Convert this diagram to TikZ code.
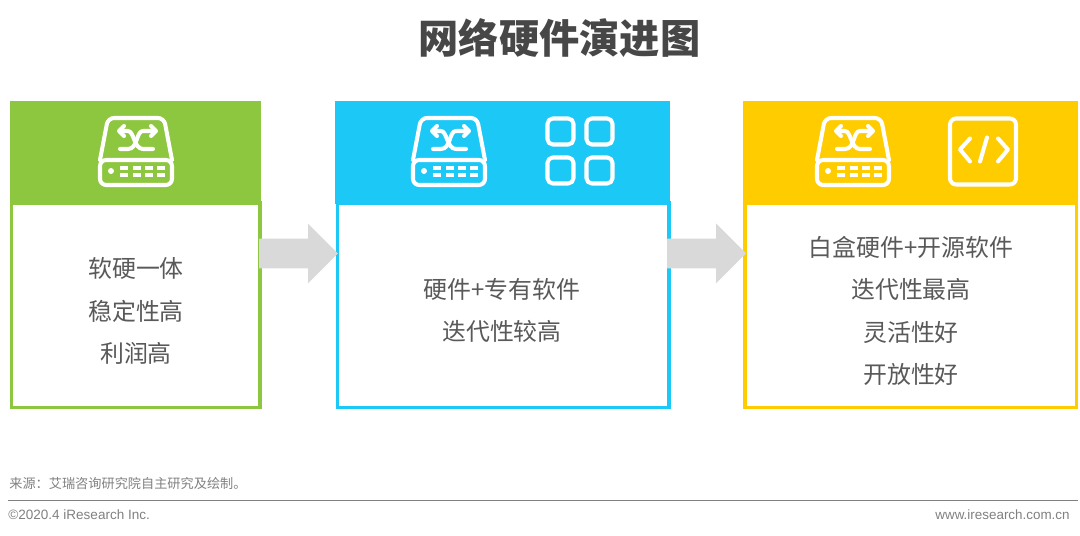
\documentclass[tikz,border=0pt]{standalone}
\usepackage{fontspec}
\setmainfont{Noto Sans CJK SC}
\newfontfamily\latinfont{Liberation Sans}
\usetikzlibrary{shapes.arrows}
\definecolor{cardgreen}{HTML}{8DC63F}
\definecolor{cardblue}{HTML}{1CC8F5}
\definecolor{cardyellow}{HTML}{FFCC00}
\definecolor{bodytext}{HTML}{595959}
\definecolor{arrowgray}{HTML}{D9D9D9}
\tikzset{
  head/.style={fill=#1,inner sep=0pt,outer sep=0pt,anchor=north west,minimum height=2.08cm},
  cardbody/.style={draw=#1,fill=white,line width=2pt,inner sep=0pt,outer sep=0pt,anchor=north west,minimum height=4.09cm},
  cardtext/.style={text=bodytext,font=\fontsize{13.6}{24.2}\selectfont,align=center,inner sep=0pt},
  flowarrow/.style={single arrow,fill=arrowgray,inner xsep=0pt,inner ysep=0.29cm,outer sep=0pt,
    single arrow head extend=0.3cm,single arrow head indent=0pt,minimum height=1.58cm,anchor=west},
  icon/.style={draw=white,line width=2.3pt,line cap=round,line join=round},
  switchicon/.pic={
    \draw[icon,rounded corners=3.5pt] (-36,8) -- (-28,-34) -- (28,-34) -- (36,8);
    \draw[icon,rounded corners=3.5pt] (-36,8) rectangle (36,33);
    \fill[white] (-25,19) circle (3);
    \foreach \x in {-16,-3,9,21}{
      \draw[icon,line width=2.1pt,line cap=butt] (\x,16) -- ++(8,0);
      \draw[icon,line width=2.1pt,line cap=butt] (\x,23) -- ++(8,0);
    }
    \draw[icon] (-16,-21) -- (-8,-21) .. controls (-2,-21) and (-2,-3) .. (7,-3) -- (17,-3);
    \draw[icon] (-16,-3) -- (-8,-3) .. controls (2,-3) and (0,-21) .. (7,-21) -- (19,-21);
    \draw[icon] (-12,-26) -- (-17,-21) -- (-12,-16);
    \draw[icon] (15,-26) -- (20,-21) -- (15,-16);
  },
  gridicon/.pic={
    \foreach \x in {-19.5,19.5}
      \foreach \y in {-19.5,19.5}
        \draw[icon,rounded corners=3pt] (\x-13,\y-13) rectangle (\x+13,\y+13);
  },
  codeicon/.pic={
    \draw[icon,rounded corners=3.5pt] (-33,-33) rectangle (33,33);
    \draw[icon] (-13,-13) -- (-23,-2) -- (-13,10);
    \draw[icon] (4,-14) -- (-3,10);
    \draw[icon] (15,-13) -- (25,-2) -- (15,10);
  }
}
\begin{document}
\begin{tikzpicture}[x=0.02cm,y=-0.02cm]
  \useasboundingbox (0,0) rectangle (1080,536);
  \node[text=bodytext!80!black,font=\fontsize{22.9}{28}\selectfont\bfseries,inner sep=0pt] (title) at (559.5,38) {网络硬件演进图};

  \node[cardbody=cardgreen,minimum width=4.97cm] (bodyA) at (11.3,203) {};
  \node[cardbody=cardblue,minimum width=6.63cm] (bodyB) at (337.5,203) {};
  \node[cardbody=cardyellow,minimum width=6.63cm] (bodyC) at (745,203) {};
  \node[head=cardgreen,minimum width=5.02cm,minimum height=2.06cm] (headA) at (10,101) {};
  \node[head=cardblue,minimum width=6.7cm,minimum height=2.06cm] (headB) at (335,101) {};
  \node[head=cardyellow,minimum width=6.7cm,minimum height=2.06cm] (headC) at (743,101) {};

  \pic at (136,152) {switchicon};
  \pic at (449,152) {switchicon};
  \pic at (580,151) {gridicon};
  \pic at (853,152) {switchicon};
  \pic at (983,151.5) {codeicon};

  \node[flowarrow] (stepA) at (259,253.5) {};
  \node[flowarrow] (stepB) at (667,253.5) {};

  \node[cardtext] (textA) at (136,311) {软硬一体\\稳定性高\\利润高};
  \node[cardtext] (textB) at (502,310.5) {硬件+专有软件\\迭代性较高};
  \node[cardtext] (textC) at (911,311) {白盒硬件+开源软件\\迭代性最高\\灵活性好\\开放性好};

  \node[anchor=west,text=gray,font=\fontsize{7.5}{10}\selectfont,inner sep=0pt] (source) at (9,483.5) {来源：艾瑞咨询研究院自主研究及绘制。};
  \coordinate (ruleL) at (8,500.5);
  \coordinate (ruleR) at (1078,500.5);
  \draw[gray,line width=0.7pt] (ruleL) -- (ruleR);
  \node[anchor=west,text=gray,font=\latinfont\fontsize{7.7}{10}\selectfont,inner sep=0pt] (copy) at (8,515) {©2020.4 iResearch Inc.};
  \node[anchor=east,text=gray,font=\latinfont\fontsize{7.64}{10}\selectfont,inner sep=0pt] (web) at (1070,515) {www.iresearch.com.cn};
\end{tikzpicture}
\end{document}
